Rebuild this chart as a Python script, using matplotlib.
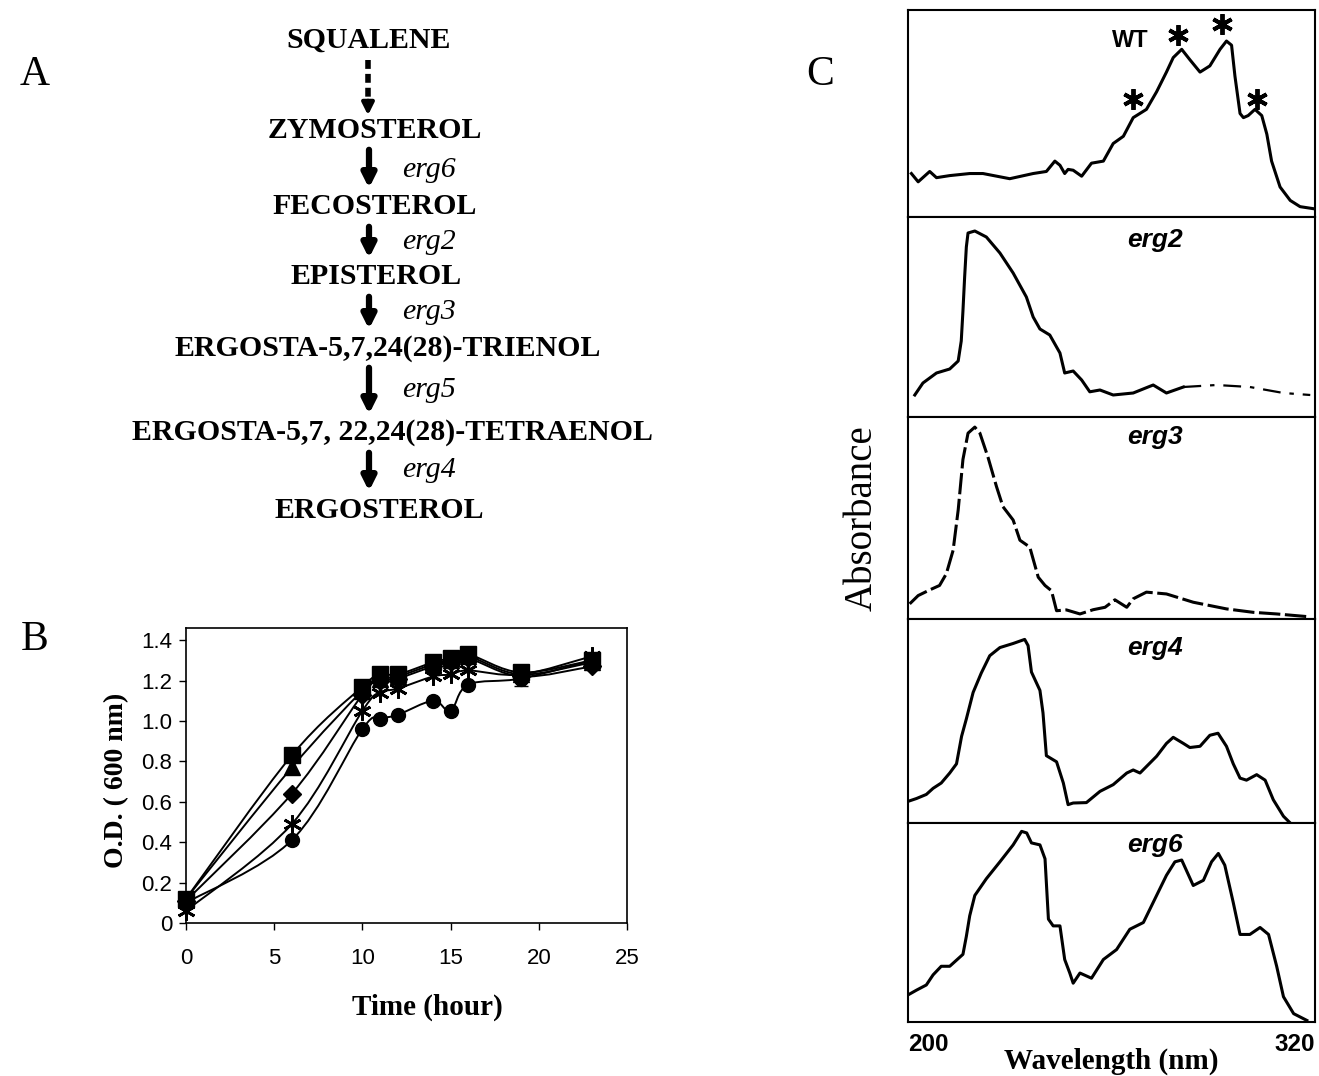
import matplotlib
matplotlib.use("Agg")
import matplotlib.pyplot as plt
from matplotlib.path import Path
from matplotlib.patches import PathPatch
import numpy as np

# ---------------- Panel B data ----------------
time_h = [0, 6, 10, 11, 12, 14, 15, 16, 19, 23]
od_square = [0.12, 0.83, 1.17, 1.23, 1.23, 1.29, 1.31, 1.33, 1.24, 1.30]
od_triangle = [0.12, 0.77, 1.15, 1.21, 1.22, 1.28, 1.30, 1.32, 1.23, 1.29]
od_diamond = [0.11, 0.64, 1.13, 1.20, 1.21, 1.27, 1.29, 1.31, 1.22, 1.27]
od_star = [0.06, 0.49, 1.05, 1.14, 1.16, 1.22, 1.23, 1.25, 1.23, 1.32]
od_circle = [0.10, 0.41, 0.96, 1.01, 1.03, 1.10, 1.05, 1.18, 1.21, 1.30]
err_19 = 0.035
b_xticks = [0, 5, 10, 15, 20, 25]
b_yticks = [0, 0.2, 0.4, 0.6, 0.8, 1.0, 1.2, 1.4]
b_yticklabels = ["0", "0.2", "0.4", "0.6", "0.8", "1.0", "1.2", "1.4"]

# ---------------- Panel C data (normalised absorbance) ----------------
wt_nm = [201, 203, 206.4, 208.4, 212.3, 218.2, 222.1, 230, 236.9, 240.8, 243.3, 244.8, 246.2,
         247.2, 248.7, 251.2, 254.1, 257.6, 260.5, 263.5, 266.4, 270.3, 273.3, 276.2, 278.2,
         280.7, 283.1, 286.1, 289, 292, 293.9, 295.4, 296.4, 297.9, 298.9, 300.3, 302.3, 304.3,
         305.8, 307.2, 309.7, 312.7, 315.6, 319.6]
wt_abs = [0.21, 0.17, 0.22, 0.19, 0.20, 0.21, 0.21, 0.185, 0.21, 0.22, 0.27, 0.25, 0.21,
          0.23, 0.226, 0.197, 0.26, 0.27, 0.355, 0.39, 0.48, 0.52, 0.605, 0.70, 0.77,
          0.81, 0.76, 0.70, 0.73, 0.81, 0.85, 0.83, 0.68, 0.50, 0.48, 0.49, 0.52, 0.49,
          0.40, 0.27, 0.145, 0.08, 0.05, 0.04]
wt_star_nm = [266.4, 279.7, 292.5, 302.8]
wt_star_abs = [0.57, 0.88, 0.93, 0.57]

erg2_nm = [202, 204.4, 208.4, 212.3, 214.8, 215.7, 216.2, 216.7, 217.2, 217.7, 219.7, 223.1,
           227.1, 231, 234.9, 236.9, 238.9, 241.8, 244.8, 246.2, 248.7, 251.2, 253.6, 256.6,
           260.5, 266.4, 270.8, 272.3, 276.2, 281.2, 291, 300.8, 310.7, 318.6]
erg2_abs = [0.11, 0.17, 0.22, 0.24, 0.28, 0.38, 0.53, 0.70, 0.85, 0.92, 0.93, 0.90,
            0.82, 0.72, 0.60, 0.50, 0.44, 0.41, 0.32, 0.22, 0.23, 0.185, 0.126, 0.135,
            0.11, 0.12, 0.15, 0.16, 0.12, 0.15, 0.16, 0.15, 0.12, 0.11]

erg3_nm = [200.5, 203, 206.4, 209.3, 211.3, 213.3, 214.8, 216.2, 217.7, 219.7, 221.2, 223.6,
           226.1, 228, 231, 233, 235.9, 238.4, 240.4, 242.3, 243.8, 246.7, 250.7, 254.6,
           258.1, 261, 264.5, 266.4, 270.3, 276.2, 284.1, 293.9, 301.8, 308.7, 317.6]
erg3_abs = [0.075, 0.116, 0.144, 0.166, 0.224, 0.34, 0.54, 0.79, 0.92, 0.95, 0.92, 0.80,
            0.655, 0.556, 0.49, 0.39, 0.356, 0.207, 0.166, 0.14, 0.041, 0.045, 0.025, 0.046,
            0.058, 0.095, 0.058, 0.10, 0.133, 0.124, 0.083, 0.05, 0.033, 0.025, 0.012]

erg4_nm = [200, 202.5, 205.4, 207.4, 209.8, 212.3, 214.3, 215.8, 217.2, 219.2, 221.6, 224.1,
           227.1, 231, 234.4, 235.4, 236.4, 238.9, 239.8, 240.8, 243.8, 245.8, 247.2, 248.7,
           252.6, 256.6, 260.5, 264.5, 266.4, 268.4, 273.3, 276.2, 278.2, 281.2, 283.1, 286.1,
           289, 291.4, 293.9, 295.9, 297.9, 299.8, 302.8, 305.3, 307.7, 310.7, 312.7]
erg4_abs = [0.106, 0.12, 0.14, 0.17, 0.196, 0.245, 0.29, 0.425, 0.51, 0.64, 0.735, 0.82,
            0.86, 0.88, 0.90, 0.87, 0.74, 0.65, 0.54, 0.33, 0.30, 0.196, 0.09, 0.098,
            0.10, 0.155, 0.188, 0.245, 0.26, 0.245, 0.327, 0.39, 0.42, 0.39, 0.37, 0.376,
            0.43, 0.44, 0.376, 0.29, 0.22, 0.21, 0.237, 0.21, 0.114, 0.033, 0.0]

erg6_nm = [200, 202.5, 205.4, 207.4, 209.8, 212.3, 216.2, 217.2, 218.2, 219.7, 223.1, 227.1,
           231, 233.5, 235, 236.4, 238.9, 240.4, 241.4, 242.8, 244.8, 246.2, 247.7, 248.7,
           250.7, 254.1, 257.6, 261.5, 265.4, 269.4, 273.3, 276.2, 278.7, 280.7, 284.1, 287.1,
           289.5, 291.5, 293.4, 295.9, 297.9, 300.8, 303.8, 306.3, 308.7, 310.7, 313.7, 317.6]
erg6_abs = [0.136, 0.16, 0.186, 0.237, 0.28, 0.28, 0.34, 0.43, 0.534, 0.636, 0.72, 0.805,
            0.89, 0.958, 0.95, 0.90, 0.89, 0.82, 0.517, 0.483, 0.483, 0.314, 0.246, 0.195,
            0.246, 0.22, 0.314, 0.364, 0.466, 0.50, 0.636, 0.737, 0.805, 0.814, 0.686, 0.712,
            0.805, 0.847, 0.788, 0.60, 0.44, 0.44, 0.475, 0.44, 0.28, 0.127, 0.042, 0.008]

spectra_labels = ["WT", "erg2", "erg3", "erg4", "erg6"]
label_nm = [265.5, 272.8, 272.8, 272.8, 272.8]
label_pos = [0.855, 0.885, 0.90, 0.86, 0.89]

# ---------------- Panel A data ----------------
pathway = ["SQUALENE", "ZYMOSTEROL", "FECOSTEROL", "EPISTEROL",
           "ERGOSTA-5,7,24(28)-TRIENOL", "ERGOSTA-5,7, 22,24(28)-TETRAENOL", "ERGOSTEROL"]
genes = ["", "erg6", "erg2", "erg3", "erg5", "erg4"]

W, H = 1319, 1076
fig = plt.figure(figsize=(W / 100, H / 100), dpi=100)
serif = "Liberation Serif"
sans = "Liberation Sans"

# Overlay for panel A and letters
ov = fig.add_axes([0, 0, 1, 1])
ov.set_xlim(0, W)
ov.set_ylim(H, 0)
ov.axis("off")

name_x = [369, 375, 375, 376, 388, 392, 379]
name_y = [40, 130, 207, 277, 348, 433, 510]
gene_y = [None, 170, 242, 312, 390, 470]
for name, x, y in zip(pathway, name_x, name_y):
    ov.text(x, y, name, fontsize=21.5, fontweight="bold", family=serif,
            ha="center", va="center")
# dashed arrow
ov.plot([368, 368], [60, 100], color="black", lw=4, ls=(0, (1.6, 0.9)))
ov.annotate("", xy=(368, 118), xytext=(368, 98),
            arrowprops=dict(arrowstyle="-|>,head_width=0.35,head_length=0.7", color="black", lw=3))
for i in range(1, 6):
    y0 = name_y[i] + 17
    y1 = name_y[i + 1] - 16
    ov.annotate("", xy=(369, y1), xytext=(369, y0),
                arrowprops=dict(arrowstyle="-|>,head_width=0.4,head_length=0.8", color="black", lw=4.5))
    ov.text(402, gene_y[i], genes[i], fontsize=21.5, style="italic", family=serif,
            ha="left", va="center")

ov.text(35, 75, "A", fontsize=30, family=serif, ha="center", va="center")
ov.text(35, 640, "B", fontsize=30, family=serif, ha="center", va="center")
ov.text(820, 75, "C", fontsize=30, family=serif, ha="center", va="center")


def smooth_path(xs, ys):
    """Catmull-Rom style smoothed line through the data points (like a spreadsheet smoothed line)."""
    p = np.column_stack([xs, ys]).astype(float)
    n = len(p)
    verts = [p[0]]
    codes = [Path.MOVETO]
    for i in range(n - 1):
        p0 = p[i - 1] if i > 0 else p[i]
        p3 = p[i + 2] if i + 2 < n else p[i + 1]
        c1 = p[i] + (p[i + 1] - p0) / 6.0
        c2 = p[i + 1] - (p3 - p[i]) / 6.0
        verts += [c1, c2, p[i + 1]]
        codes += [Path.CURVE4] * 3
    return Path(verts, codes)


# ---------------- Panel B ----------------
axb = fig.add_axes([186 / W, 1 - 923 / H, (627 - 186) / W, (923 - 628) / H])
series_b = [(od_circle, "o", 10), (od_star, (6, 2, 0), 13), (od_diamond, "D", 9),
            (od_triangle, "^", 11), (od_square, "s", 11)]
for ys, mk, ms in series_b:
    axb.add_patch(PathPatch(smooth_path(time_h, ys), fill=False, edgecolor="black", lw=1.4))
    axb.plot(time_h, ys, ls="none", marker=mk, ms=ms, mew=2 if mk == (6, 2, 0) else 1,
             color="black", clip_on=False)
axb.errorbar([time_h[8]], [od_circle[8]], yerr=err_19, fmt="none", ecolor="black", capsize=5, lw=1)
axb.set_xlim(0, 25)
axb.set_ylim(0, 1.46)
axb.set_xticks(b_xticks)
axb.set_xticklabels([str(t) for t in b_xticks], family=sans, fontsize=16)
axb.set_yticks(b_yticks)
axb.set_yticklabels(b_yticklabels, family=sans, fontsize=16)
axb.tick_params(direction="out", length=5, width=1)
axb.tick_params(axis="x", pad=13)
axb.tick_params(axis="y", pad=5)
for s in axb.spines.values():
    s.set_linewidth(1.2)
axb.set_xlabel("Time (hour)", family=serif, fontweight="bold", fontsize=21)
axb.xaxis.set_label_coords(0.547, -0.24)
axb.set_ylabel("O.D. ( 600 nm)", family=serif, fontweight="bold", fontsize=20)
axb.yaxis.set_label_coords(-0.13, 0.485)

# ---------------- Panel C ----------------
left, right = 908 / W, 1315 / W
bottoms = [217, 417, 619, 823, 1022]
tops = [10, 217, 417, 619, 823]
series = [(wt_nm, wt_abs), (erg2_nm, erg2_abs), (erg3_nm, erg3_abs),
          (erg4_nm, erg4_abs), (erg6_nm, erg6_abs)]
axes_c = []
for k in range(5):
    ax = fig.add_axes([left, 1 - bottoms[k] / H, right - left, (bottoms[k] - tops[k]) / H])
    nm, ab = series[k]
    if k == 1:
        cut = 29
        ax.plot(nm[:cut + 1], ab[:cut + 1], color="black", lw=2.2)
        ax.plot(nm[cut:], ab[cut:], color="black", lw=1.6, ls=(0, (8, 4, 2, 4)))
    elif k == 2:
        ax.plot(nm, ab, color="black", lw=2.2, ls=(0, (7, 1.5)))
    else:
        ax.plot(nm, ab, color="black", lw=2.2)
    ax.set_xlim(200, 320)
    ax.set_ylim(0, 1)
    ax.set_yticks([])
    ax.set_xticks([])
    for s in ax.spines.values():
        s.set_linewidth(1.5)
    if k == 0:
        ax.text(label_nm[k], label_pos[k], spectra_labels[k], family=sans, fontweight="bold",
                fontsize=17, ha="center", va="center")
        ax.plot(wt_star_nm, wt_star_abs, ls="none", marker=(6, 2, 0), ms=15, mew=2.8, color="black")
    else:
        ax.text(label_nm[k], label_pos[k], spectra_labels[k], family=sans, fontweight="bold",
                style="italic", fontsize=19, ha="center", va="center")
    axes_c.append(ax)

axc = axes_c[-1]
axc.set_xticks([200, 320])
axc.set_xticklabels(["200", "320"], family=sans, fontweight="bold", fontsize=17.5)
labs = axc.get_xticklabels()
labs[0].set_ha("left")
labs[1].set_ha("right")
axc.tick_params(axis="x", length=0, pad=8)
axc.set_xlabel("Wavelength (nm)", family=serif, fontweight="bold", fontsize=21, labelpad=-6)
fig.text(862 / W, 1 - 518 / H, "Absorbance", family=serif, fontsize=28, rotation=90,
         ha="center", va="center")

fig.savefig("out.png", dpi=100)
